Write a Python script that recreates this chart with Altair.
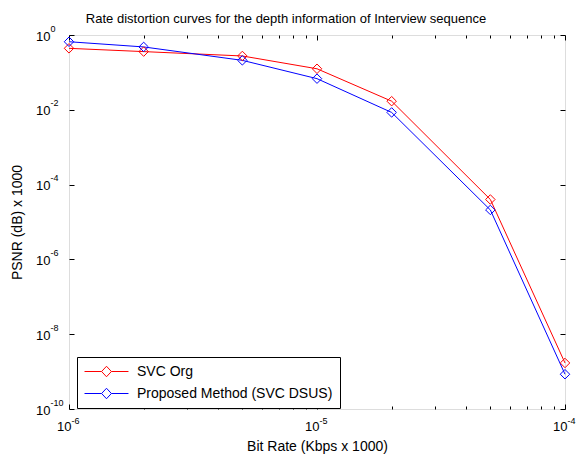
import altair as alt
import pandas as pd

# ---- data ----
rates = [1e-6, 2e-6, 5e-6, 1e-5, 2e-5, 5e-5, 1e-4]
svc_org = [0.44, 0.36, 0.275, 0.125, 0.017, 4.0e-5, 1.7e-9]
proposed = [0.66, 0.48, 0.21, 0.068, 0.0085, 2.1e-5, 8.5e-10]
series_names = ["SVC Org", "Proposed Method (SVC DSUS)"]
series_colors = ["#ff0000", "#0000ff"]

x_major = [1e-6, 1e-5, 1e-4]
x_major_exps = ["-6", "-5", "-4"]
x_minor = [2e-6, 3e-6, 4e-6, 5e-6, 6e-6, 7e-6, 8e-6, 9e-6,
           2e-5, 3e-5, 4e-5, 5e-5, 6e-5, 7e-5, 8e-5, 9e-5]
y_major = [1e0, 1e-2, 1e-4, 1e-6, 1e-8, 1e-10]
y_major_exps = ["0", "-2", "-4", "-6", "-8", "-10"]
tick_base = "10"

title_text = "Rate distortion curves for the depth information of Interview sequence"
x_title = "Bit Rate (Kbps x 1000)"
y_title = "PSNR (dB) x 1000"

FONT = "Liberation Sans"

rows = []
for name, vals in zip(series_names, [svc_org, proposed]):
    for r, v in zip(rates, vals):
        rows.append({"series": name, "rate": r, "psnr": v})
df = pd.DataFrame(rows)


def label_expr(values, labels):
    vals = sorted(zip(values, labels))
    expr = f"'{vals[-1][1]}'"
    for i in range(len(vals) - 2, -1, -1):
        mid = (vals[i][0] * vals[i + 1][0]) ** 0.5
        expr = f"datum.value < {mid:.3e} ? '{vals[i][1]}' : ({expr})"
    return expr


xs = alt.Scale(type="log", domain=[1e-6, 1e-4], nice=False)
ys = alt.Scale(type="log", domain=[1e-10, 1], nice=False)
color = alt.Scale(domain=series_names, range=series_colors)

MAJ = 5
MIN = 3
BASE_FS = 13
EXP_FS = 9

common = dict(domain=False, grid=False, labelFlush=False, labelOverlap=False,
              labelBound=False, labelFont=FONT, labelColor="black")


def tick_axis(orient, values, size):
    return alt.Axis(orient=orient, values=values, labels=False, domain=False,
                    grid=False, ticks=True, tickSize=size, offset=-size,
                    tickColor="black", tickWidth=1, title=None)


# bottom: major ticks + "10" labels + title
x_axis_main = alt.Axis(
    orient="bottom", values=x_major, ticks=True, tickSize=MAJ, offset=-MAJ,
    tickColor="black", tickWidth=1,
    labelExpr=f"'{tick_base}'", labelFontSize=BASE_FS, labelAlign="right",
    labelOffset=2, labelBaseline="alphabetic", labelPadding=21,
    title=x_title, titleFont=FONT, titleFontSize=14, titleFontWeight="normal",
    titleColor="black", titleBaseline="alphabetic", titleY=41 + MAJ, **common)
# bottom: exponent labels
x_axis_exp = alt.Axis(
    orient="bottom", values=x_major, ticks=False, tickSize=0,
    labelExpr=label_expr(x_major, x_major_exps), labelFontSize=EXP_FS,
    labelAlign="left", labelOffset=2, labelBaseline="alphabetic",
    labelPadding=14, title=None, **common)
# left: major ticks + "10" labels + title
y_axis_main = alt.Axis(
    orient="left", values=y_major, ticks=True, tickSize=MAJ, offset=-MAJ,
    tickColor="black", tickWidth=1,
    labelExpr=f"'{tick_base}'", labelFontSize=BASE_FS, labelAlign="right",
    labelBaseline="alphabetic", labelOffset=5, labelPadding=19,
    title=y_title, titleFont=FONT, titleFontSize=14, titleFontWeight="normal",
    titleColor="black", titleBaseline="alphabetic", titleX=-48 - MAJ,
    **common)
# left: exponent labels
y_axis_exp = alt.Axis(
    orient="left", values=y_major, ticks=False, tickSize=0,
    labelExpr=label_expr(y_major, y_major_exps), labelFontSize=EXP_FS,
    labelAlign="left", labelBaseline="alphabetic", labelOffset=-4,
    labelPadding=19, title=None, **common)

legend_path = ("M-3.14,0L-0.7,0M0.7,0L3.14,0"
               "M-0.7,0L0,-0.75L0.7,0L0,0.75Z")

base = alt.Chart(df)

lines = base.mark_line(strokeWidth=1).encode(
    x=alt.X("rate:Q", scale=xs, axis=x_axis_main),
    y=alt.Y("psnr:Q", scale=ys, axis=y_axis_main),
    color=alt.Color("series:N", scale=color, legend=alt.Legend(
        title=None, orient="none", legendX=8, legendY=322,
        direction="vertical",
        symbolType=legend_path, symbolSize=196, symbolStrokeWidth=1,
        symbolFillColor="transparent", symbolOffset=15,
        labelFont=FONT, labelFontSize=14, labelColor="black",
        labelOffset=23, labelLimit=400,
        strokeColor="black", fillColor="white", padding=7,
        rowPadding=7)),
)

points = base.mark_point(shape="diamond", filled=False, size=90,
                         strokeWidth=1, opacity=1).encode(
    x=alt.X("rate:Q", scale=xs, axis=x_axis_exp),
    y=alt.Y("psnr:Q", scale=ys, axis=y_axis_exp),
    color=alt.Color("series:N", scale=color, legend=None),
)

inv3 = base.mark_point(opacity=0).encode(
    x=alt.X("rate:Q", scale=xs, axis=tick_axis("bottom", x_minor, MIN)),
    y=alt.Y("psnr:Q", scale=ys, axis=tick_axis("right", y_major, MAJ)),
)
inv4 = base.mark_point(opacity=0).encode(
    x=alt.X("rate:Q", scale=xs, axis=tick_axis("top", x_major, MAJ)),
    y=alt.Y("psnr:Q", scale=ys, axis=None),
)
inv5 = base.mark_point(opacity=0).encode(
    x=alt.X("rate:Q", scale=xs, axis=tick_axis("top", x_minor, MIN)),
    y=alt.Y("psnr:Q", scale=ys, axis=None),
)

chart = alt.layer(lines, points, inv3, inv4, inv5).resolve_axis(
    x="independent", y="independent"
).properties(
    width=496, height=374,
    title=alt.TitleParams(title_text, font=FONT, fontSize=13,
                          fontWeight="normal", color="black",
                          anchor="middle", dx=-31, dy=24, frame="group",
                          baseline="alphabetic", offset=12),
    autosize=alt.AutoSizeParams(type="none"),
    padding={"left": 69, "top": 35, "right": 11, "bottom": 45},
).configure_view(stroke="black", strokeWidth=1).configure(background="white")

chart.save("out.html", embed_options={"renderer": "svg", "actions": False})
